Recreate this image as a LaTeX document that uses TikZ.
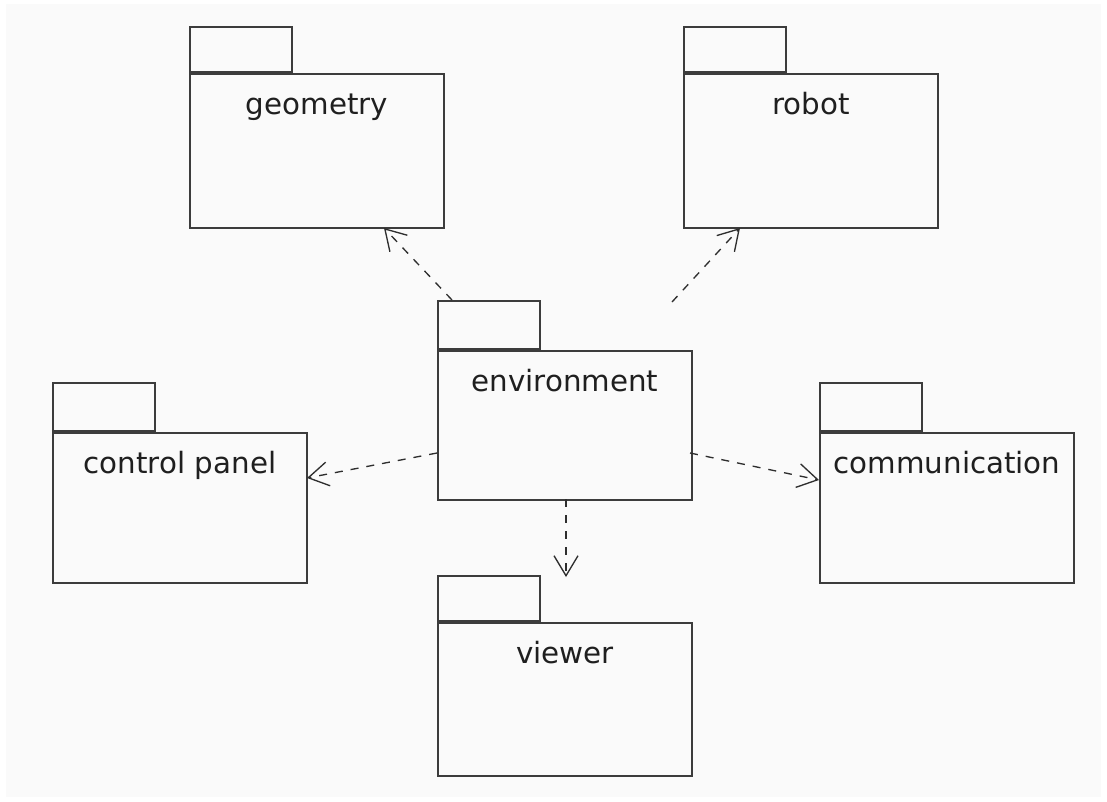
\documentclass[tikz,border=0pt]{standalone}
\usepackage{fontspec}
\setsansfont{DejaVu Sans}
\usetikzlibrary{arrows.meta,calc}
\definecolor{bg}{HTML}{FAFAFA}
\definecolor{ln}{HTML}{3C3C3C}
\begin{document}
\begin{tikzpicture}[x=0.75pt,y=-0.75pt,
 body/.style={draw=ln, line width=1.5pt, fill=bg, inner sep=0pt, anchor=north west,
   minimum width=190.5pt, minimum height=115.5pt},
 tab/.style={draw=ln, line width=1.5pt, fill=bg, inner sep=0pt, anchor=south west,
   minimum width=76.5pt, minimum height=36pt},
 lbl/.style={font=\sffamily\fontsize{22}{26}\selectfont, anchor=base, text=black!88},
 dep/.style={draw=black!82, line width=1pt, dash pattern=on 6pt off 6pt,
   -{Straight Barb[length=15pt,width=18pt,line width=1pt]}}]
\fill[white] (0,0) rectangle (1107,801);
\fill[bg] (6,4) rectangle (1101,797);
% geometry
\node[tab, minimum height=33.75pt] (geotab) at (189,73) {};
\node[body] (geo) at (189,73) {};
\node[lbl] (geolbl) at ($(geo.north)+(0,41)$) {geometry};
% robot
\node[tab, minimum height=33.75pt] (robtab) at (683,73) {};
\node[body] (rob) at (683,73) {};
\node[lbl] (roblbl) at ($(rob.north)+(0,41)$) {robot};
% environment
\node[tab] (envtab) at (437,350) {};
\node[body, minimum height=112pt] (env) at (437,350) {};
\node[lbl] (envlbl) at ($(env.north)+(0,41)$) {environment};
% control panel
\node[tab] (ctltab) at (52,432) {};
\node[body, minimum height=112.5pt] (ctl) at (52,432) {};
\node[lbl] (ctllbl) at ($(ctl.north)+(0,41)$) {control panel};
% communication
\node[tab] (comtab) at (819,432) {};
\node[body, minimum height=112.5pt] (com) at (819,432) {};
\node[lbl] (comlbl) at ($(com.north)+(0,41)$) {communication};
% viewer
\node[tab, minimum height=33.75pt] (viewtab) at (437,622) {};
\node[body, minimum height=114.5pt] (view) at (437,622) {};
\node[lbl] (viewlbl) at ($(view.north)+(0,41)$) {viewer};
% connector end points
\coordinate (e1) at (452,300);
\coordinate (g1) at (384,228);
\coordinate (e2) at (672,302);
\coordinate (r1) at (740,228);
\coordinate (e3) at (437,453);
\coordinate (c1) at (307,478);
\coordinate (e4) at (690,453);
\coordinate (m1) at (819,480);
\coordinate (e5) at (566,499);
\coordinate (v1) at (566,577);
\draw[dep] (e1) -- (g1);
\draw[dep] (e2) -- (r1);
\draw[dep] (e3) -- (c1);
\draw[dep] (e4) -- (m1);
\draw[dep] (e5) -- (v1);
\end{tikzpicture}
\end{document}
